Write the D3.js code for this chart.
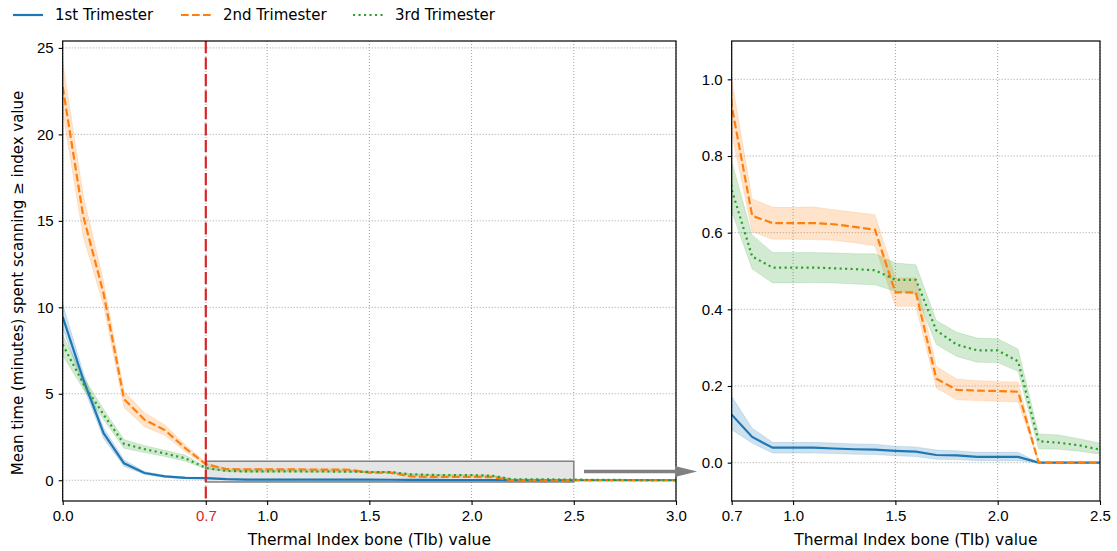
<!doctype html>
<html>
<head>
<meta charset="utf-8">
<title>Thermal Index bone</title>
<script src="https://d3js.org/d3.v7.min.js"></script>
<style>
  body { margin: 0; background: #fff; }
  svg { display: block; font-family: "DejaVu Sans", sans-serif; }
  .tick text { font-size: 15px; fill: #000; }
  .tick line { stroke: #000; }
</style>
</head>
<body>
<script>
// thermal index values (x)
var tib = [0.0, 0.1, 0.2, 0.3, 0.4, 0.5, 0.6, 0.7, 0.8, 0.9, 1.0, 1.1, 1.2, 1.3, 1.4, 1.5,
           1.6, 1.7, 1.8, 1.9, 2.0, 2.1, 2.2, 2.3, 2.4, 2.5, 2.6, 2.7, 2.8, 2.9, 3.0];

// 1st trimester
var t1Mean = [9.45, 5.85, 2.72, 0.98, 0.42, 0.22, 0.14, 0.125, 0.067, 0.039, 0.039, 0.039, 0.037, 0.035, 0.034, 0.031,
              0.029, 0.020, 0.019, 0.015, 0.015, 0.015, 0, 0, 0, 0, 0, 0, 0, 0, 0];
var t1Lo   = [8.8, 5.45, 2.42, 0.80, 0.34, 0.16, 0.09, 0.086, 0.051, 0.025, 0.025, 0.025, 0.024, 0.022, 0.021, 0.018,
              0.016, 0.009, 0.008, 0.005, 0.005, 0.005, 0, 0, 0, 0, 0, 0, 0, 0, 0];
var t1Hi   = [10.2, 6.25, 3.02, 1.18, 0.50, 0.28, 0.19, 0.173, 0.090, 0.053, 0.053, 0.053, 0.051, 0.049, 0.048, 0.043,
              0.041, 0.033, 0.031, 0.027, 0.027, 0.027, 0, 0, 0, 0, 0, 0, 0, 0, 0];

// 2nd trimester
var t2Mean = [22.75, 15.3, 10.8, 4.7, 3.5, 2.9, 1.85, 0.93, 0.644, 0.625, 0.625, 0.625, 0.622, 0.615, 0.608, 0.444,
              0.444, 0.219, 0.190, 0.188, 0.187, 0.185, 0, 0, 0, 0, 0, 0, 0, 0, 0];
var t2Lo   = [21.3, 14.1, 10.1, 4.2, 3.1, 2.6, 1.65, 0.86, 0.603, 0.583, 0.583, 0.582, 0.580, 0.574, 0.566, 0.408,
              0.408, 0.195, 0.164, 0.162, 0.160, 0.158, 0, 0, 0, 0, 0, 0, 0, 0, 0];
var t2Hi   = [24.2, 16.5, 11.5, 5.15, 3.9, 3.2, 2.05, 1.0, 0.688, 0.666, 0.666, 0.667, 0.660, 0.653, 0.647, 0.482,
              0.482, 0.251, 0.218, 0.214, 0.212, 0.210, 0, 0, 0, 0, 0, 0, 0, 0, 0];

// 3rd trimester
var t3Mean = [7.85, 5.6, 3.8, 2.1, 1.8, 1.55, 1.27, 0.712, 0.538, 0.509, 0.509, 0.509, 0.507, 0.505, 0.502, 0.477,
              0.477, 0.345, 0.308, 0.293, 0.293, 0.264, 0.056, 0.052, 0.045, 0.034, 0.025, 0.018, 0.012, 0.008, 0.005];
var t3Lo   = [7.2, 5.3, 3.5, 1.85, 1.6, 1.38, 1.1, 0.655, 0.505, 0.469, 0.469, 0.470, 0.469, 0.466, 0.464, 0.447,
              0.440, 0.308, 0.277, 0.262, 0.261, 0.238, 0.036, 0.035, 0.030, 0.022, 0.012, 0.007, 0.004, 0.002, 0.001];
var t3Hi   = [8.4, 6.0, 4.1, 2.35, 2.0, 1.73, 1.45, 0.786, 0.594, 0.548, 0.548, 0.548, 0.547, 0.545, 0.545, 0.521,
              0.516, 0.371, 0.340, 0.325, 0.323, 0.296, 0.075, 0.072, 0.062, 0.051, 0.040, 0.030, 0.022, 0.015, 0.010];

var seriesNames = ["1st Trimester", "2nd Trimester", "3rd Trimester"];

var leftXTicks = [0.0, 0.7, 1.0, 1.5, 2.0, 2.5, 3.0];
var leftYTicks = [0, 5, 10, 15, 20, 25];
var rightXTicks = [0.7, 1.0, 1.5, 2.0, 2.5];
var rightYTicks = [0.0, 0.2, 0.4, 0.6, 0.8, 1.0];

var threshold = 0.7;
var zoomBox = {x0: 0.7, x1: 2.5, y0: -0.1, y1: 1.1};

var W = 1117, H = 551;
var colors = ["#1f77b4", "#ff7f0e", "#2ca02c"];
var dashes = [null, "7.7,3.3", "2.1,3.4"];

var series = [
  {name: seriesNames[0], mean: t1Mean, lo: t1Lo, hi: t1Hi},
  {name: seriesNames[1], mean: t2Mean, lo: t2Lo, hi: t2Hi},
  {name: seriesNames[2], mean: t3Mean, lo: t3Lo, hi: t3Hi}
];

var svg = d3.select("body").append("svg").attr("width", W).attr("height", H);

var plotTop = 41, plotBottom = 501;

function panel(id, left, right, xDom, yDom, xTicks, yTicks, yFmt) {
  var x = d3.scaleLinear().domain(xDom).range([left, right]);
  var y = d3.scaleLinear().domain(yDom).range([plotBottom, plotTop]);
  var g = svg.append("g");

  g.append("clipPath").attr("id", id).append("rect")
    .attr("x", left).attr("y", plotTop).attr("width", right - left).attr("height", plotBottom - plotTop);

  // grid
  var grid = g.append("g").attr("stroke", "#a0a0a0").attr("stroke-width", 1).attr("stroke-dasharray", "1,2");
  grid.selectAll(".gx").data(xTicks).enter().append("line")
    .attr("x1", function(d) { return x(d); }).attr("x2", function(d) { return x(d); })
    .attr("y1", plotTop).attr("y2", plotBottom);
  grid.selectAll(".gy").data(yTicks).enter().append("line")
    .attr("y1", function(d) { return y(d); }).attr("y2", function(d) { return y(d); })
    .attr("x1", left).attr("x2", right);

  var plot = g.append("g").attr("clip-path", "url(#" + id + ")");
  return {x: x, y: y, g: g, plot: plot, left: left, right: right, xTicks: xTicks, yTicks: yTicks, yFmt: yFmt};
}

function drawSeries(p) {
  series.forEach(function(s, i) {
    var pts = tib.map(function(t, k) { return {t: t, m: s.mean[k], lo: s.lo[k], hi: s.hi[k]}; });
    var band = d3.area().x(function(d) { return p.x(d.t); })
      .y0(function(d) { return p.y(d.lo); }).y1(function(d) { return p.y(d.hi); });
    p.plot.append("path").datum(pts).attr("d", band)
      .attr("fill", colors[i]).attr("fill-opacity", 0.22).attr("stroke", colors[i]).attr("stroke-opacity", 0.15);
  });
  series.forEach(function(s, i) {
    var pts = tib.map(function(t, k) { return {t: t, m: s.mean[k]}; });
    var line = d3.line().x(function(d) { return p.x(d.t); }).y(function(d) { return p.y(d.m); });
    p.plot.append("path").datum(pts).attr("d", line)
      .attr("fill", "none").attr("stroke", colors[i]).attr("stroke-width", 2.2)
      .attr("stroke-dasharray", dashes[i]);
  });
}

function drawAxes(p) {
  var xa = p.g.append("g").attr("transform", "translate(0," + plotBottom + ")")
    .call(d3.axisBottom(p.x).tickValues(p.xTicks).tickFormat(d3.format(".1f")).tickSize(4).tickPadding(5).tickSizeOuter(0));
  xa.select(".domain").remove();
  var ya = p.g.append("g").attr("transform", "translate(" + p.left + ",0)")
    .call(d3.axisLeft(p.y).tickValues(p.yTicks).tickFormat(p.yFmt).tickSize(4).tickPadding(5).tickSizeOuter(0));
  ya.select(".domain").remove();
  p.g.selectAll(".tick line").attr("stroke-width", 1.1);
  p.g.append("rect").attr("x", p.left).attr("y", plotTop).attr("width", p.right - p.left).attr("height", plotBottom - plotTop)
    .attr("fill", "none").attr("stroke", "#000").attr("stroke-width", 1.2);
  p.g.append("text").attr("x", (p.left + p.right) / 2).attr("y", 545).attr("text-anchor", "middle")
    .attr("font-size", 15.5).text("Thermal Index bone (TIb) value");
  return xa;
}

// left panel
var L = panel("clipL", 62.7, 676, [0, 3.0], [-1.2, 25.4], leftXTicks, leftYTicks, d3.format("d"));

L.plot.append("rect")
  .attr("x", L.x(zoomBox.x0)).attr("y", L.y(zoomBox.y1))
  .attr("width", L.x(zoomBox.x1) - L.x(zoomBox.x0)).attr("height", L.y(zoomBox.y0) - L.y(zoomBox.y1))
  .attr("fill", "#e5e5e5").attr("stroke", "#808080").attr("stroke-width", 1.5);

drawSeries(L);

L.plot.append("line")
  .attr("x1", L.x(threshold)).attr("x2", L.x(threshold)).attr("y1", plotTop).attr("y2", plotBottom)
  .attr("stroke", "#d62728").attr("stroke-width", 2.2).attr("stroke-dasharray", "12,4.5");

var lxa = drawAxes(L);
lxa.selectAll(".tick text").filter(function(d) { return d === threshold; }).style("fill", "#d62728");

L.g.append("text")
  .attr("transform", "translate(23," + 283 + ") rotate(-90)")
  .attr("text-anchor", "middle").attr("font-size", 15)
  .text("Mean time (minutes) spent scanning \u2265 index value");

// right panel
var R = panel("clipR", 731.7, 1100, [0.7, 2.5], [-0.1, 1.1], rightXTicks, rightYTicks, d3.format(".1f"));
drawSeries(R);
drawAxes(R);

// arrow from zoom box to right panel
var ay = L.y(0.5);
svg.append("line").attr("x1", L.x(2.55)).attr("x2", 677).attr("y1", ay).attr("y2", ay)
  .attr("stroke", "#808080").attr("stroke-width", 3.5);
svg.append("path")
  .attr("d", "M675," + (ay - 5.5) + "L697," + ay + "L675," + (ay + 5.5) + "Z")
  .attr("fill", "#808080");

// legend
var leg = svg.append("g");
var legX = [13, 181, 353];
series.forEach(function(s, i) {
  leg.append("line").attr("x1", legX[i]).attr("x2", legX[i] + 30).attr("y1", 15).attr("y2", 15)
    .attr("stroke", colors[i]).attr("stroke-width", 2.2).attr("stroke-dasharray", dashes[i]);
  leg.append("text").attr("x", legX[i] + 42).attr("y", 20).attr("font-size", 15).text(s.name);
});
</script>
</body>
</html>
